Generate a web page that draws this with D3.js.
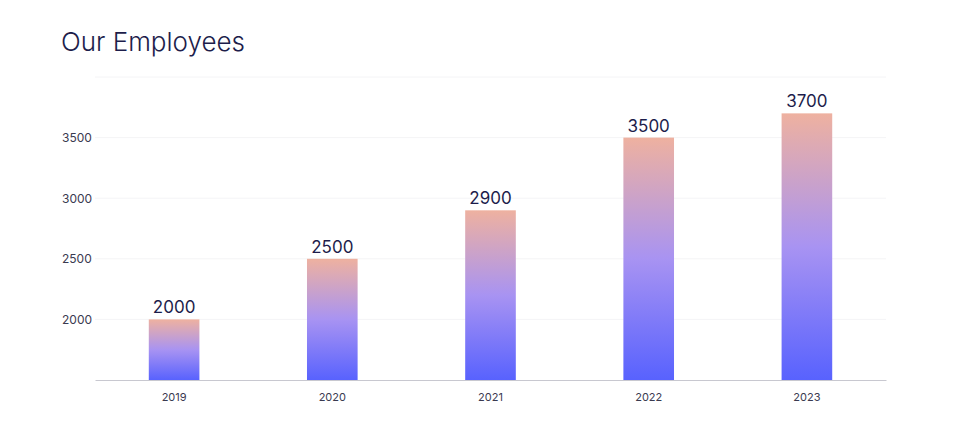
<!DOCTYPE html>
<html><head><meta charset="utf-8">
<script src="https://cdn.jsdelivr.net/npm/d3@7"></script>
<style>body{margin:0;background:#fff;} svg{display:block;font-family:Inter, "Noto Sans", sans-serif;}</style>
</head><body><svg id="c" width="957" height="443"></svg>
<script>
const years = ["2019","2020","2021","2022","2023"];
const employees = [2000, 2500, 2900, 3500, 3700];
const yTicks = [2000, 2500, 3000, 3500];
const gridTicks = [2000, 2500, 3000, 3500, 4000];

const svg = d3.select("#c");
const m = {left:95, right:886, top:77, bottom:380};
const x = d3.scaleBand().domain(years).range([m.left, m.right]).paddingInner(0.68).paddingOuter(0.34);
const y = d3.scaleLinear().domain([1500, 4000]).range([m.bottom, m.top]);

const defs = svg.append("defs");
const g = defs.append("linearGradient").attr("id","bg").attr("x1",0).attr("y1",0).attr("x2",0).attr("y2",1);
g.append("stop").attr("offset","0%").attr("stop-color","#eeb1a0");
g.append("stop").attr("offset","50%").attr("stop-color","#a893f2");
g.append("stop").attr("offset","100%").attr("stop-color","#5862fe");

svg.append("text").attr("x",61).attr("y",51).text("Our Employees")
  .attr("font-size",26).attr("fill","#1d1d4b").attr("font-weight",300);

svg.append("g").selectAll("line").data(gridTicks).join("line")
  .attr("x1",m.left).attr("x2",m.right).attr("y1",d=>y(d)).attr("y2",d=>y(d))
  .attr("stroke","#f4f4f6").attr("stroke-width",1);

const ya = svg.append("g").attr("transform",`translate(${m.left},0)`)
  .call(d3.axisLeft(y).tickValues(yTicks).tickSize(0).tickPadding(0).tickFormat(d3.format("d")));
ya.select(".domain").remove();
ya.selectAll("text").attr("x",-33).attr("text-anchor","start").attr("font-size",12).attr("fill","#3a3a50").attr("font-family","Inter, sans-serif");

svg.append("g").selectAll("rect").data(employees).join("rect")
  .attr("x",(d,i)=>x(years[i])).attr("width",x.bandwidth())
  .attr("y",d=>y(d)).attr("height",d=>y(1500)-y(d)).attr("fill","url(#bg)");

svg.append("g").selectAll("text").data(employees).join("text")
  .attr("x",(d,i)=>x(years[i])+x.bandwidth()/2).attr("y",d=>y(d)-6)
  .attr("text-anchor","middle").attr("font-size",17).attr("fill","#1d1d4b").text(d=>d);

const xa = svg.append("g").attr("transform",`translate(0,${m.bottom})`)
  .call(d3.axisBottom(x).tickSize(0).tickPadding(13));
xa.select(".domain").attr("stroke","#c8c8d0");
xa.selectAll("text").attr("font-size",11).attr("fill","#3a3a50").attr("font-family","Inter, sans-serif");
</script></body></html>
